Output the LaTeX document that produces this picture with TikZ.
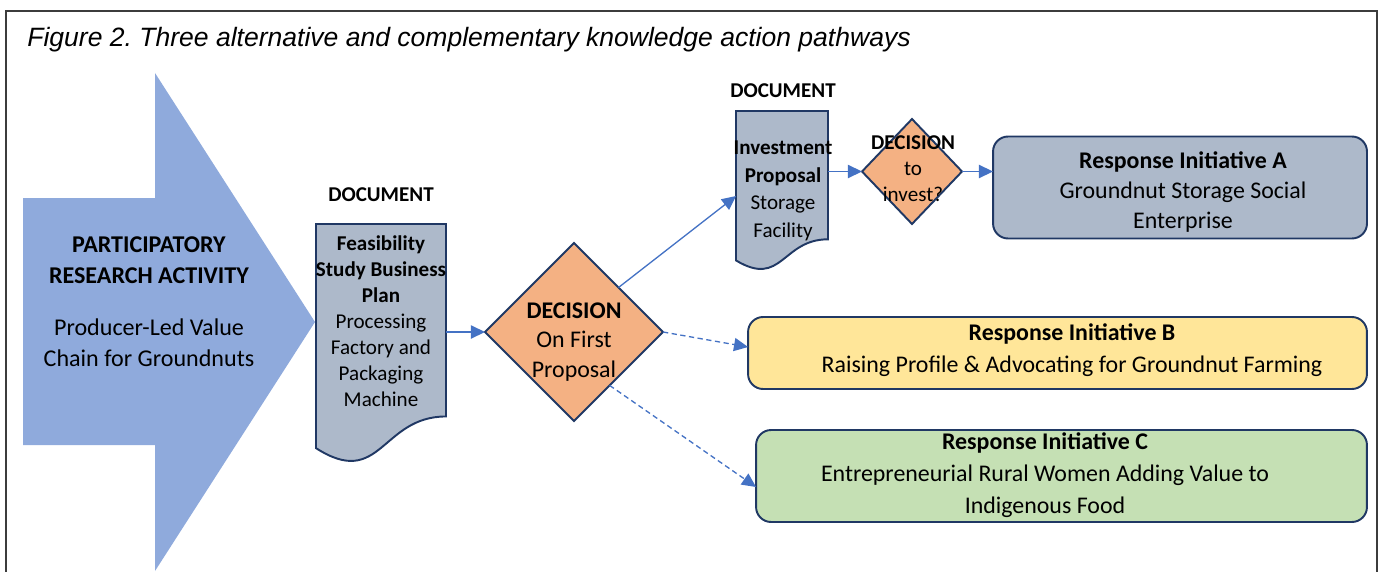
\documentclass[tikz,border=0pt]{standalone}
\usepackage{fontspec}
\setmainfont{Carlito}
\newfontfamily\capfont{Liberation Sans}
\usetikzlibrary{calc,shapes.geometric,arrows.meta}
\frenchspacing
\definecolor{harrow}{RGB}{143,170,220}
\definecolor{hslate}{RGB}{173,185,202}
\definecolor{hnavy}{RGB}{32,56,100}
\definecolor{hpeach}{RGB}{244,177,131}
\definecolor{hyellow}{RGB}{255,230,153}
\definecolor{hgreen}{RGB}{197,224,180}
\definecolor{hlink}{RGB}{68,114,196}
\definecolor{hframe}{RGB}{60,60,60}
\tikzset{
  shp/.style={draw=hnavy,line width=1.1pt,inner sep=0pt,outer sep=0pt},
  docnode/.style={inner sep=0pt,outer sep=0pt},
  decide/.style={shp,diamond,fill=hpeach},
  resp/.style={shp,rounded corners=0.3cm},
  link/.style={draw=hlink,line width=0.75pt,-{Triangle[length=8pt,width=7.5pt]}},
  maybe/.style={link,dash pattern=on 3pt off 2pt},
  bigtxt/.style={align=center,inner sep=0pt,font=\fontsize{13.6}{17.3}\selectfont},
  smalltxt/.style={align=center,inner sep=0pt,font=\fontsize{12}{14.8}\selectfont},
  hdr/.style={inner sep=0pt,font=\bfseries\fontsize{12}{14}\selectfont},
}
\newcommand{\docshape}[1]{\draw[shp,fill=hslate] (#1.north west) -- (#1.north east)
  -- ($(#1.north east)!0.802!(#1.south east)$)
  .. controls ($(#1.north)!0.802!(#1.south)$) and ($(#1.north)!1.1075!(#1.south)$)
  .. ($(#1.north west)!0.934!(#1.south west)$) -- cycle;}

\begin{document}
\begin{tikzpicture}[x=0.02cm,y=-0.02cm]
    \useasboundingbox (0,0) rectangle (1381,571);
    \draw[hframe,line width=0.8pt] (6,580) -- (6,11) -- (1377,11) -- (1377,580);
    \node[anchor=base west,inner sep=0pt,font=\capfont\itshape\fontsize{15.1}{18}\selectfont] (title) at (27,47) {Figure 2. Three alternative and complementary knowledge action pathways};

    \fill[harrow] (23,198) -- (155,198) -- (155,73) -- (315,322) -- (155,571) -- (155,445) -- (23,445) -- cycle;
    \node[bigtxt,font=\fontsize{13.7}{17.6}\selectfont] (part) at (149,302) {\textbf{PARTICIPATORY}\\\textbf{RESEARCH ACTIVITY}\\[12pt]Producer-Led Value\\Chain for Groundnuts};

    \node[hdr] (hdr1) at (381,195) {DOCUMENT};
    \node[docnode,minimum width=2.6cm,minimum height=4.8cm] (feas) at (381,344) {};
    \docshape{feas}
    \node[smalltxt] (feastxt) at (381,321) {\textbf{Feasibility}\\\textbf{Study Business}\\\textbf{Plan}\\Processing\\Factory and\\Packaging\\Machine};

    \node[decide,minimum width=3.56cm,minimum height=3.56cm] (dec1) at (574,332) {};
    \node[bigtxt,font=\fontsize{13.6}{16.8}\selectfont] (dec1txt) at (574,342) {\textbf{DECISION}\\On First\\Proposal};

    \node[hdr] (hdr2) at (783,91) {DOCUMENT};
    \node[docnode,minimum width=1.84cm,minimum height=3.2cm] (inv) at (782,191) {};
    \docshape{inv}
    \node[smalltxt,font=\fontsize{12}{15.7}\selectfont] (invtxt) at (783,191) {\textbf{Investment}\\\textbf{Proposal}\\Storage\\Facility};

    \node[decide,minimum width=2cm,minimum height=2.1cm] (dec2) at (912,171.5) {};
    \node[smalltxt] (dec2txt) at (913,169) {\textbf{DECISION}\\to\\invest?};

    \node[resp,fill=hslate,minimum width=7.48cm,minimum height=2.04cm] (respA) at (1180,187.5) {};
    \node[bigtxt] (respAtxt) at (1183,192) {\textbf{Response Initiative A}\\Groundnut Storage Social\\Enterprise};
    \node[resp,fill=hyellow,minimum width=12.38cm,minimum height=1.44cm] (respB) at (1057.5,353) {};
    \node[bigtxt,font=\fontsize{13.6}{18.2}\selectfont] (respBtxt) at (1072,350) {\textbf{Response Initiative B}\\Raising Profile \& Advocating for Groundnut Farming};
    \node[resp,fill=hgreen,minimum width=12.22cm,minimum height=1.84cm] (respC) at (1061.5,476) {};
    \node[bigtxt,font=\fontsize{13.6}{18.2}\selectfont] (respCtxt) at (1045,475.5) {\textbf{Response Initiative C}\\Entrepreneurial Rural Women Adding Value to\\Indigenous Food};

    \draw[link] (feas.east |- dec1.west) -- (dec1.west);
    \draw[link] (dec1.north east) -- ($(inv.west)+(0,5)$);
    \draw[link] (inv.east |- dec2.west) -- (dec2.west);
    \draw[link] (dec2.east) -- (dec2.east -| respA.west);
    \draw[maybe] (dec1.east) -- ($(respB.west)+(0,-6)$);
    \draw[maybe] ($(dec1.south)!0.4!(dec1.east)$) -- ($(respC.west)+(0,11)$);
\end{tikzpicture}
\end{document}
